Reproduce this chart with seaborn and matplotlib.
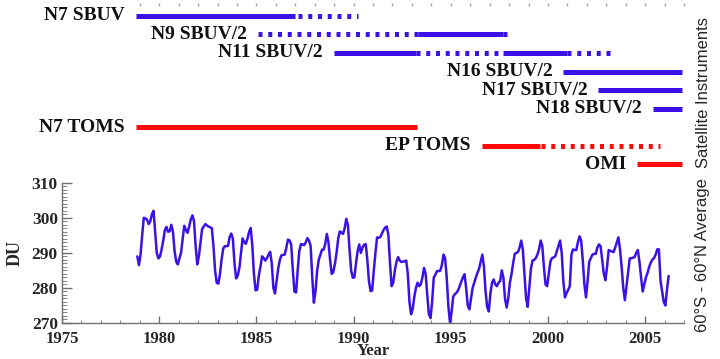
import numpy as np
import pandas as pd
import matplotlib
matplotlib.use("Agg")
import matplotlib.pyplot as plt
import seaborn as sns

# --- data ---
instruments = ['N7 SBUV', 'N9 SBUV/2', 'N11 SBUV/2', 'N16 SBUV/2', 'N17 SBUV/2',
               'N18 SBUV/2', 'N7 TOMS', 'EP TOMS', 'OMI']
inst_colors = ['blue'] * 6 + ['red'] * 3

seg_inst = ['N7 SBUV', 'N7 SBUV',
            'N9 SBUV/2', 'N9 SBUV/2', 'N9 SBUV/2',
            'N11 SBUV/2', 'N11 SBUV/2', 'N11 SBUV/2', 'N11 SBUV/2',
            'N16 SBUV/2', 'N17 SBUV/2', 'N18 SBUV/2',
            'N7 TOMS', 'EP TOMS', 'EP TOMS', 'OMI']
seg_start = [1978.8, 1987.15, 1985.1, 1993.3, 1997.7, 1989.0, 1993.2, 1997.7, 2001.0,
             2000.8, 2002.6, 2005.4, 1978.8, 1996.6, 1999.65, 2004.6]
seg_end = [1987.0, 1990.25, 1993.3, 1997.7, 1998.05, 1993.2, 1997.7, 2001.0, 2003.2,
           2006.9, 2006.9, 2006.9, 1993.25, 1999.6, 2005.75, 2006.9]
seg_dotted = [False, True, True, False, True, False, True, False, True,
              False, False, False, False, False, True, False]

# monthly 60S-60N average total ozone (DU), Nov 1978 onwards
du_values = [
    289.0, 286.5, 289.5, 295.0, 300.0, 299.8, 299.5, 298.2, 299.0, 301.0, 302.0, 296.0,
    290.0, 288.4, 289.0, 291.0, 293.5, 296.5, 297.4, 296.0, 296.2, 298.0, 296.0, 290.5,
    287.5, 286.7, 288.5, 290.0, 294.0, 297.7, 296.5, 295.7, 297.5, 299.5, 300.7, 299.0,
    292.0, 286.7, 289.0, 293.0, 296.8, 297.5, 298.2, 297.8, 297.5, 297.3, 297.0, 292.0,
    285.0, 281.5, 281.2, 283.9, 288.0, 291.2, 291.9, 291.9, 292.0, 294.5, 295.5, 294.0,
    287.0, 282.7, 283.5, 285.7, 290.0, 294.1, 293.0, 292.6, 294.0, 296.0, 297.1, 292.0,
    283.9, 279.3, 279.5, 283.5, 286.0, 289.0, 288.5, 287.8, 288.5, 289.5, 290.3, 287.0,
    280.0, 278.4, 282.0, 285.6, 288.0, 289.3, 289.4, 289.5, 291.5, 293.8, 293.5, 292.4,
    285.0, 279.0, 278.7, 285.0, 290.5, 292.5, 292.4, 292.2, 293.0, 294.2, 293.5, 291.9,
    283.0, 275.8, 279.0, 284.8, 288.0, 289.5, 290.9, 290.9, 292.5, 295.4, 293.0, 288.0,
    284.0, 284.5, 286.9, 290.0, 294.0, 296.1, 295.8, 295.4, 297.0, 299.7, 298.0, 291.0,
    285.0, 282.9, 283.0, 287.0, 290.5, 292.4, 290.0, 291.5, 292.3, 292.5, 288.0, 282.0,
    279.1, 279.3, 285.0, 290.0, 294.4, 294.3, 294.5, 295.5, 296.5, 297.2, 297.5, 295.0,
    287.0, 280.5, 281.5, 285.0, 287.5, 288.8, 287.8, 287.4, 287.5, 287.6, 287.8, 284.0,
    276.0, 272.5, 274.0, 277.5, 280.0, 281.5, 280.5, 281.0, 283.0, 285.7, 284.0, 278.0,
    272.5, 271.4, 276.0, 282.9, 283.8, 284.8, 284.8, 284.9, 286.5, 289.5, 288.5, 283.0,
    275.0, 270.2, 273.0, 277.5, 278.2, 278.6, 279.3, 280.5, 281.8, 283.0, 283.9, 280.0,
    275.0, 273.9, 277.0, 280.0, 281.5, 283.0, 284.3, 285.5, 287.5, 289.5, 286.0, 279.0,
    274.5, 273.3, 278.5, 281.5, 282.4, 281.0, 280.5, 281.5, 282.0, 285.0, 283.0, 277.0,
    274.4, 277.0, 281.5, 283.9, 287.0, 289.7, 290.0, 290.2, 291.5, 293.5, 291.0, 284.0,
    277.0, 274.6, 280.0, 285.5, 287.8, 288.0, 288.5, 289.5, 291.0, 293.5, 292.0, 286.0,
    281.0, 280.5, 284.0, 287.5, 288.5, 288.7, 289.0, 290.5, 292.0, 293.5, 290.0, 282.0,
    277.3, 278.5, 279.5, 280.5, 289.5, 291.0, 290.8, 290.8, 293.0, 294.7, 293.5, 288.0,
    281.0, 277.3, 282.0, 287.5, 288.5, 289.5, 289.7, 289.7, 291.5, 292.4, 291.9, 288.0,
    284.0, 282.2, 286.0, 290.8, 290.6, 290.4, 290.2, 291.5, 293.0, 294.4, 291.0, 286.0,
    280.0, 276.5, 280.5, 284.5, 288.4, 288.5, 288.6, 288.8, 290.0, 290.8, 287.5, 283.0,
    279.0, 281.0, 283.0, 284.3, 286.0, 287.2, 288.1, 288.5, 289.5, 291.0, 291.0, 282.0,
    279.0, 276.0, 275.0, 279.5, 283.4,
]
months = np.arange(len(du_values))
years = 1978 + (10 + months + 0.5) / 12.0

df = pd.DataFrame({'Year': years, 'DU': du_values})

# --- style ---
sns.set_style("ticks")
serif = ['Liberation Serif', 'DejaVu Serif']
sans = ['Liberation Sans', 'DejaVu Sans']
plt.rcParams['font.family'] = serif
blue = '#3a12e8'
red = '#ff0a0a'
axis_grey = '#707070'

fig = plt.figure(figsize=(7.2, 3.59), dpi=100)
W, H = 720, 359
left, right = 62 / W, 684 / W

# ---------------- instrument timeline panel ----------------
ax_top = fig.add_axes([left, 1 - 178 / H, right - left, 175 / H])
row_of = {name: i for i, name in enumerate(instruments)}
col_of = {name: (blue if c == 'blue' else red) for name, c in zip(instruments, inst_colors)}

for name, s, e, dot in zip(seg_inst, seg_start, seg_end, seg_dotted):
    r = row_of[name]
    if dot:
        ax_top.plot([s, e], [r, r], color=col_of[name], lw=3.6,
                    linestyle=(0, (0.8, 1.15)), solid_capstyle='butt', dash_capstyle='butt')
    else:
        ax_top.plot([s, e], [r, r], color=col_of[name], lw=3.6, solid_capstyle='butt')

for name in instruments:
    first = min(s for n, s in zip(seg_inst, seg_start) if n == name)
    ax_top.annotate(name, (first, row_of[name]), xytext=(-8, 0), textcoords='offset points',
                    ha='right', va='center', fontsize=14, fontweight='bold',
                    family=serif, color='#111111')

ax_top.set_xlim(1975, 2007)
ax_top.set_ylim(8.726, -0.683)
for sp in ax_top.spines.values():
    sp.set_visible(False)
ax_top.set_yticks([])
ax_top.xaxis.tick_top()
ax_top.set_xticks(np.arange(1979, 2008))
ax_top.tick_params(axis='x', direction='in', length=2.5, width=1.0, color='#a8a8a8',
                   labeltop=False, labelbottom=False)

# ---------------- ozone time series panel ----------------
ax = fig.add_axes([left, 1 - 323 / H, right - left, (323 - 182.7) / H])
sns.lineplot(data=df, x='Year', y='DU', ax=ax, color=blue, lw=1.8)

ax.set_xlim(1975, 2007)
ax.set_ylim(270, 310)
ax.set_xticks(np.arange(1975, 2006, 5))
ax.set_xticks(np.arange(1975, 2008), minor=True)
ax.set_yticks(np.arange(270, 311, 10))
ax.set_yticks(np.arange(270, 311, 1), minor=True)
sns.despine(ax=ax)
for sp in ['left', 'bottom']:
    ax.spines[sp].set_color(axis_grey)
    ax.spines[sp].set_linewidth(1.0)
ax.tick_params(axis='both', which='major', direction='in', color=axis_grey, width=1.0)
ax.tick_params(axis='x', which='major', length=5, pad=5.5, labelsize=12)
ax.tick_params(axis='y', which='major', length=7, pad=3, labelsize=12.5)
ax.tick_params(axis='x', which='minor', direction='in', length=2.5, color=axis_grey)
ax.tick_params(axis='y', which='minor', direction='in', length=3.5, color=axis_grey)
for lab in ax.get_xticklabels() + ax.get_yticklabels():
    lab.set_fontweight('bold')
ax.set_xlabel('Year', fontsize=12, fontweight='bold', va='baseline')
ax.xaxis.set_label_coords(0.5, -0.23)
ax.set_ylabel('DU', fontsize=13, fontweight='bold', labelpad=6)

# right-hand side labels
fig.text(703 / W, 1 - 92 / H, 'Satellite Instruments', rotation=90, ha='center', va='center',
         fontsize=12, family=sans)
fig.text(703 / W, 1 - 255 / H, '60°S - 60°N Average', rotation=90, ha='center', va='center',
         fontsize=12, family=sans)

fig.savefig('out.png', dpi=100)
